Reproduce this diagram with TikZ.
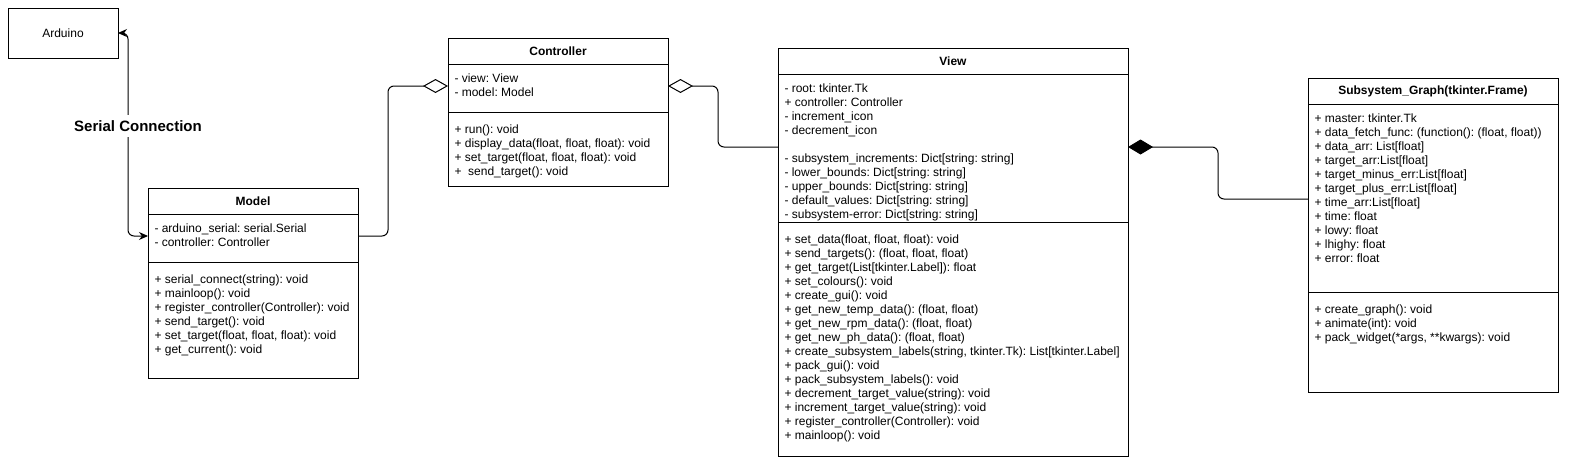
\documentclass[tikz,border=0pt]{standalone}
\usepackage{fontspec}
\setmainfont{Liberation Sans}
\usetikzlibrary{positioning,arrows.meta}
\newcommand\umlfont{\fontsize{12}{14}\selectfont}
\frenchspacing

\begin{document}
\begin{tikzpicture}[
        x=1pt, y=-1pt, line width=1pt,
        box/.style={rectangle, draw, anchor=north west, inner sep=0pt, outer sep=0pt, minimum width=#1},
        head/.style={box=#1, minimum height=26, font=\umlfont\bfseries},
        members/.style={anchor=north west, align=left, inner sep=0pt, font=\umlfont, execute at begin node=\strut},
        link/.style={rounded corners=6pt},
        plug/.tip={Stealth[length=9pt, width=8pt]},
        hollow/.tip={Diamond[open, length=25pt, width=14pt]},
        solid/.tip={Diamond[length=25pt, width=15pt]}
    ]
        \useasboundingbox (0,0) rectangle (1571,474);

        \node[box=110, minimum height=50, font=\umlfont] (arduino) at (8,8) {Arduino};

        \node[head=210] (model) at (148,188) {Model};
        \node[box=210, minimum height=48, below=0pt of model] (modelattr) {};
        \node[box=210, minimum height=116, below=0pt of modelattr] (modelops) {};
        \node[members] (modelvars) at ([shift={(6,9.5)}]modelattr.north west)
            {- arduino\_serial: serial.Serial\\- controller: Controller};
        \node[members] (modelfuncs) at ([shift={(6,12.5)}]modelops.north west)
            {+ serial\_connect(string): void\\
             + mainloop(): void\\
             + register\_controller(Controller): void\\
             + send\_target(): void\\
             + set\_target(float, float, float): void\\
             + get\_current(): void};

        \node[head=220] (ctrl) at (448,38) {Controller};
        \node[box=220, minimum height=48, below=0pt of ctrl] (ctrlattr) {};
        \node[box=220, minimum height=74, below=0pt of ctrlattr] (ctrlops) {};
        \node[members] (ctrlvars) at ([shift={(6,9.5)}]ctrlattr.north west)
            {- view: View\\- model: Model};
        \node[members] (ctrlfuncs) at ([shift={(6,12.5)}]ctrlops.north west)
            {+ run(): void\\
             + display\_data(float, float, float): void\\
             + set\_target(float, float, float): void\\
             +~ send\_target(): void};

        \node[head=350] (view) at (778,48) {View};
        \node[box=350, minimum height=148, below=0pt of view] (viewattr) {};
        \node[box=350, minimum height=234, below=0pt of viewattr] (viewops) {};
        \node[members] (viewvars) at ([shift={(6,9.5)}]viewattr.north west)
            {- root: tkinter.Tk\\
             + controller: Controller\\
             - increment\_icon\\
             - decrement\_icon\\[14pt]
             - subsystem\_increments: Dict[string: string]\\
             - lower\_bounds: Dict[string: string]\\
             - upper\_bounds: Dict[string: string]\\
             - default\_values: Dict[string: string]\\
             - subsystem-error: Dict[string: string]};
        \node[members] (viewfuncs) at ([shift={(6,12.5)}]viewops.north west)
            {+ set\_data(float, float, float): void\\
             + send\_targets(): (float, float, float)\\
             + get\_target(List[tkinter.Label]): float\\
             + set\_colours(): void\\
             + create\_gui(): void\\
             + get\_new\_temp\_data(): (float, float)\\
             + get\_new\_rpm\_data(): (float, float)\\
             + get\_new\_ph\_data(): (float, float)\\
             + create\_subsystem\_labels(string, tkinter.Tk): List[tkinter.Label]\\
             + pack\_gui(): void\\
             + pack\_subsystem\_labels(): void\\
             + decrement\_target\_value(string): void\\
             + increment\_target\_value(string): void\\
             + register\_controller(Controller): void\\
             + mainloop(): void};

        \node[head=250] (graph) at (1308,78) {Subsystem\_Graph(tkinter.Frame)};
        \node[box=250, minimum height=188, below=0pt of graph] (graphattr) {};
        \node[box=250, minimum height=100, below=0pt of graphattr] (graphops) {};
        \node[members] (graphvars) at ([shift={(6,9.5)}]graphattr.north west)
            {+ master: tkinter.Tk\\
             + data\_fetch\_func: (function(): (float, float))\\
             + data\_arr: List[float]\\
             + target\_arr:List[float]\\
             + target\_minus\_err:List[float]\\
             + target\_plus\_err:List[float]\\
             + time\_arr:List[float]\\
             + time: float\\
             + lowy: float\\
             + lhighy: float\\
             + error: float};
        \node[members] (graphfuncs) at ([shift={(6,12.5)}]graphops.north west)
            {+ create\_graph(): void\\
             + animate(int): void\\
             + pack\_widget(*args, **kwargs): void};

        \draw[link, plug-plug] (arduino.east) -- ++(10,0) |- ([yshift=2pt]modelattr.west);
        \draw[link, -hollow] ([yshift=2pt]modelattr.east) -- ++(30,0) |- ([yshift=2pt]ctrlattr.west);
        \draw[link, -hollow] ([yshift=1pt]viewattr.west) -- ++(-60,0) |- ([yshift=2pt]ctrlattr.east);
        \draw[link, -solid] ([yshift=-1pt]graphattr.west) -- ++(-90,0) |- ([yshift=1pt]viewattr.east);

        \node[font=\fontsize{15}{18}\selectfont\bfseries, fill=white, inner xsep=1pt, inner ysep=5pt] (serial) at (138,126) {Serial Connection};
    \end{tikzpicture}
\end{document}
